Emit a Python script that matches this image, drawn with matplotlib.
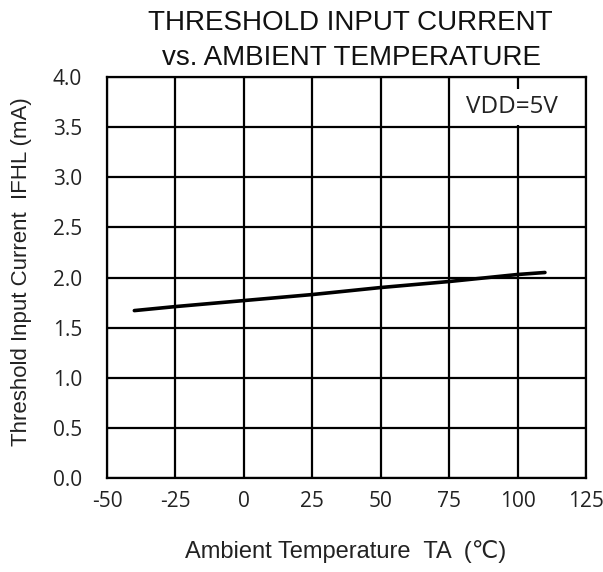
import matplotlib
matplotlib.use("Agg")
import matplotlib.pyplot as plt

# Threshold input current vs ambient temperature, VDD=5V
temp_c = [-40, -25, 0, 25, 50, 75, 100, 110]
ifhl_ma = [1.67, 1.71, 1.77, 1.83, 1.90, 1.96, 2.03, 2.05]

x_ticks = [-50, -25, 0, 25, 50, 75, 100, 125]
y_ticks = [0.0, 0.5, 1.0, 1.5, 2.0, 2.5, 3.0, 3.5, 4.0]

fig = plt.figure(figsize=(6.03, 5.72), dpi=100)
ax = fig.add_axes([0.1774, 0.1643, 0.7944, 0.7011])

ax.plot(temp_c, ifhl_ma, color="black", lw=2.6, solid_capstyle="round")

ax.set_xlim(-50, 125)
ax.set_ylim(0, 4)
ax.set_xticks(x_ticks)
ax.set_yticks(y_ticks)
ax.set_xticklabels([str(v) for v in x_ticks])
ax.set_yticklabels([f"{v:.1f}" for v in y_ticks])
ax.grid(True, color="black", lw=1.6)
ax.set_axisbelow(True)
for s in ax.spines.values():
    s.set_color("black")
    s.set_linewidth(1.6)
tick_font = ["Open Sans", "DejaVu Sans"]
ax.tick_params(length=0, labelsize=15, colors="#222222")
ax.tick_params(axis="x", pad=9)
ax.tick_params(axis="y", pad=18)
for lab in ax.get_xticklabels() + ax.get_yticklabels():
    lab.set_family(tick_font)

sans = ["Liberation Sans", "DejaVu Sans"]
# axis labels placed as figure text
fig.text(0.574, 0.036, "Ambient Temperature  TA  (\u2103)", ha="center", va="center",
         fontsize=17, family=sans, color="#222222")
fig.text(0.036, 0.5245, "Threshold Input Current  IFHL (mA)", ha="center", va="center",
         rotation=90, fontsize=16, family=sans, color="#222222")

fig.text(0.5804, 0.9476, "THRESHOLD INPUT CURRENT", ha="center", va="baseline",
         fontsize=20, family=sans, color="#111111")
fig.text(0.5837, 0.8864, "vs. AMBIENT TEMPERATURE", ha="center", va="baseline",
         fontsize=20, family=sans, color="#111111")

ax.text(114.8, 3.70, "VDD=5V", ha="right", va="center", fontsize=17.5,
        family=tick_font, color="#222222",
        bbox=dict(facecolor="white", edgecolor="none", pad=4))

fig.savefig("out.png", dpi=100)
